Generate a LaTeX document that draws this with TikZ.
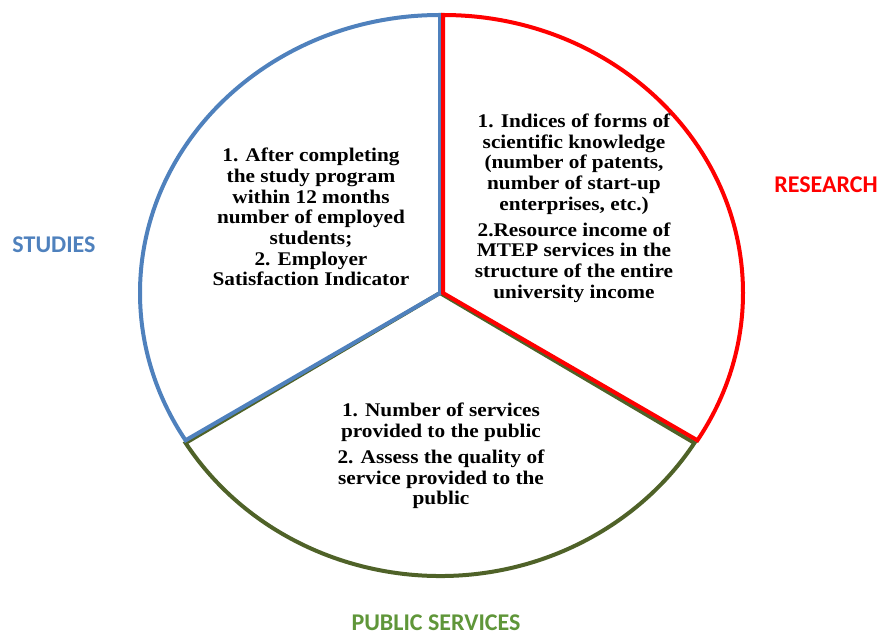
\documentclass[tikz,border=0pt]{standalone}
\usepackage{fontspec}
\setmainfont[FakeStretch=1.1]{Liberation Serif}
\newfontfamily\labelfont{Carlito}
\definecolor{studyblue}{HTML}{4F81BD}
\definecolor{resred}{HTML}{FF0000}
\definecolor{pubgreen}{HTML}{4F6228}
\definecolor{publabel}{HTML}{5F9639}
\tikzset{
	sector/.style={line width=3pt},
	area label/.style={font=\labelfont\bfseries\fontsize{18}{20}\selectfont},
	indicator/.style={align=center, font=\bfseries\fontsize{14.5}{15.5}\selectfont}
}

\begin{document}
\begin{tikzpicture}[x=0.75pt, y=0.75pt]
        \useasboundingbox (0,0) rectangle (879,635);

        % Centres of the three sectors
        \coordinate (cstudy) at (440,342);
        \coordinate (cres) at (443,342);
        \coordinate (cpub) at (440,342);

        % Public services sector
        \draw[sector, pubgreen] (cpub) -- ++({300*cos(212)},{283*sin(212)})
            arc[start angle=212, end angle=328, x radius=225pt, y radius=212.25pt] -- cycle;

        % Studies sector
        \draw[sector, studyblue] (cstudy) -- ++(0,278)
            arc[start angle=90, end angle=212, x radius=225pt, y radius=208.5pt] -- cycle;

        % Research sector
        \draw[sector, resred] (cres) -- ++(0,278)
            arc[start angle=90, end angle=-32, x radius=225pt, y radius=208.5pt] -- cycle;

        % Indicators
        \node[indicator] (studytext) at (311,418) {1. After completing\\the study program\\within 12 months\\number of employed\\students;\\2. Employer\\Satisfaction Indicator};
        \node[indicator] (restext) at (574,427) {1. Indices of forms of\\scientific knowledge\\(number of patents,\\number of start-up\\enterprises, etc.)\\[4pt]2.Resource income of\\MTEP services in the\\structure of the entire\\university income};
        \node[indicator] (pubtext) at (441,179) {1. Number of services\\provided to the public\\[4pt]2. Assess the quality of\\service provided to the\\public};

        % Area names
        \node[area label, studyblue] (studies) at (54,390) {STUDIES};
        \node[area label, resred] (research) at (826,450) {RESEARCH};
        \node[area label, publabel] (public) at (436,12) {PUBLIC SERVICES};
\end{tikzpicture}
\end{document}
